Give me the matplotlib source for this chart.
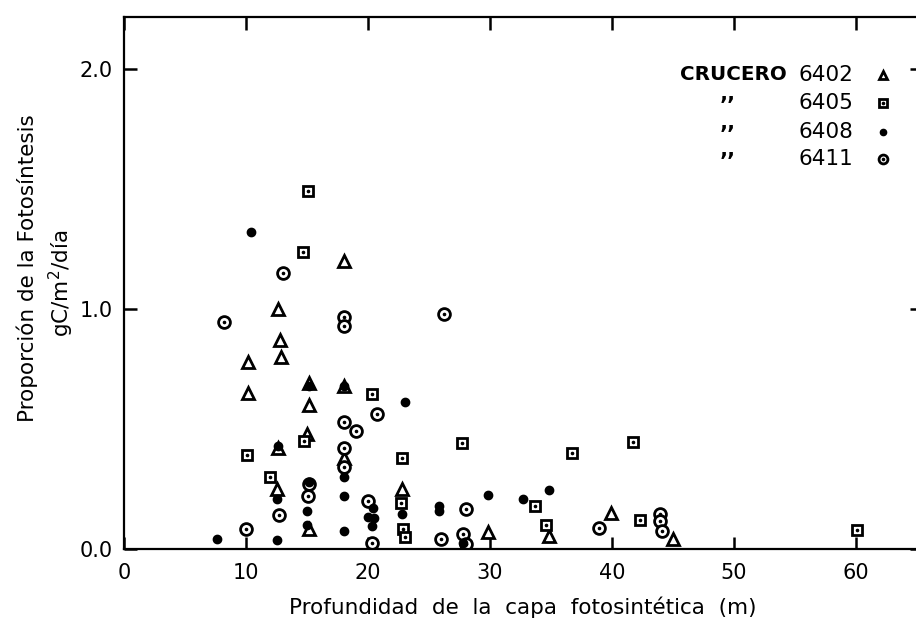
import matplotlib.pyplot as plt

# crucero 6402 (triangulos)
x_6402 = [10.2, 10.2, 12.6, 12.8, 12.9, 15.2, 15.2, 15.0, 12.6, 12.5, 15.2, 18.0, 18.0, 18.0, 22.8, 29.8, 34.8, 39.9, 45.0]
y_6402 = [0.78, 0.65, 1.00, 0.87, 0.80, 0.69, 0.60, 0.48, 0.42, 0.25, 0.083, 1.20, 0.68, 0.38, 0.25, 0.07, 0.054, 0.15, 0.042]

# crucero 6405 (cuadrados)
x_6405 = [15.1, 14.7, 10.1, 12.0, 14.75, 20.3, 22.8, 22.7, 22.9, 23.0, 27.7, 33.7, 34.6, 36.7, 41.7, 42.3, 60.1]
y_6405 = [1.49, 1.235, 0.39, 0.30, 0.45, 0.645, 0.38, 0.19, 0.083, 0.05, 0.44, 0.18, 0.10, 0.40, 0.445, 0.12, 0.079]

# crucero 6408 (puntos)
x_6408 = [10.4, 7.6, 12.5, 12.5, 12.6, 15.0, 15.0, 15.2, 15.2, 18.0, 18.0, 18.0, 18.0, 23.0, 20.4, 20.0, 20.5,
          20.3, 22.8, 25.8, 25.8, 29.8, 32.7, 34.8, 27.8]
y_6408 = [1.32, 0.042, 0.038, 0.21, 0.43, 0.158, 0.10, 0.28, 0.68, 0.68, 0.30, 0.22, 0.075, 0.61, 0.17, 0.133, 0.13,
          0.096, 0.146, 0.18, 0.16, 0.225, 0.21, 0.245, 0.025]

# crucero 6411 (circulos)
x_6411 = [13.0, 8.2, 18.0, 18.0, 26.2, 10.0, 12.7, 15.1, 15.2, 18.0, 20.7, 19.0, 18.0, 18.0, 20.0, 20.3, 26.0,
          28.0, 27.8, 28.0, 38.9, 43.9, 43.9, 44.1]
y_6411 = [1.15, 0.946, 0.966, 0.93, 0.98, 0.083, 0.14, 0.22, 0.27, 0.53, 0.56, 0.49, 0.42, 0.34, 0.20, 0.025, 0.042,
          0.167, 0.062, 0.02, 0.088, 0.146, 0.117, 0.075]

cruceros = ["6402", "6405", "6408", "6411"]
x_ticks = [0, 10, 20, 30, 40, 50, 60]
y_ticks = [0.0, 1.0, 2.0]

fig = plt.figure(figsize=(9.16, 6.21), dpi=100)
ax = fig.add_axes([124/916, 72/621, 798/916, 532/621])

tri = dict(marker="^", ms=8, mfc="white", mec="black", mew=2.0, ls="none")
sq = dict(marker="s", ms=7, mfc="white", mec="black", mew=2.0, ls="none")
dot = dict(marker="o", ms=6, mfc="black", mec="black", ls="none")
circ = dict(marker="o", ms=8.5, mfc="white", mec="black", mew=2.0, ls="none")
centro = dict(marker="o", ms=1.6, color="black", ls="none")

ax.plot(x_6402, y_6402, **tri)
ax.plot(x_6405, y_6405, **sq)
ax.plot(x_6405, y_6405, **centro)
ax.plot(x_6411, y_6411, **circ)
ax.plot(x_6411, y_6411, **centro)
ax.plot(x_6408, y_6408, **dot)

ax.set_xlim(0, 65.4)
ax.set_ylim(0, 2.215)
ax.set_xticks(x_ticks)
ax.set_yticks(y_ticks)
ax.set_yticklabels(["0.0", "1.0", "2.0"])
ax.tick_params(direction="in", length=9, width=1.8, labelsize=15, top=True, right=True, pad=8)
ax.tick_params(axis="x", pad=10)
for s in ax.spines.values():
    s.set_linewidth(1.6)

ax.set_xlabel("Profundidad  de  la  capa  fotosintética  (m)", fontsize=15.5, labelpad=10)
fig.text(27/916, 1 - 268/621, "Proporción de la Fotosíntesis", rotation=90,
         ha="center", va="center", fontsize=15.5)
fig.text(61/916, 1 - 283/621, "gC/m$^2$/día", rotation=90,
         ha="center", va="center", fontsize=15.5)

# leyenda dibujada a mano
filas = [1.975, 1.858, 1.737, 1.625]
estilos = [tri, sq, dot, circ]
ax.text(45.6, filas[0], "CRUCERO", fontsize=14.3, va="center", ha="left", fontweight="semibold")
for i in range(4):
    ax.text(59.75, filas[i], cruceros[i], fontsize=15.5, va="center", ha="right")
    if i > 0:
        ax.text(49.5, filas[i] - 0.015, "’’", fontsize=15, va="center", ha="center", fontweight="bold")
    est = dict(estilos[i])
    est["ms"] = est["ms"] * 0.75
    ax.plot([62.2], [filas[i]], **est)
    if i in (1, 3):
        ax.plot([62.2], [filas[i]], **centro)

plt.savefig("out.png", dpi=100)
